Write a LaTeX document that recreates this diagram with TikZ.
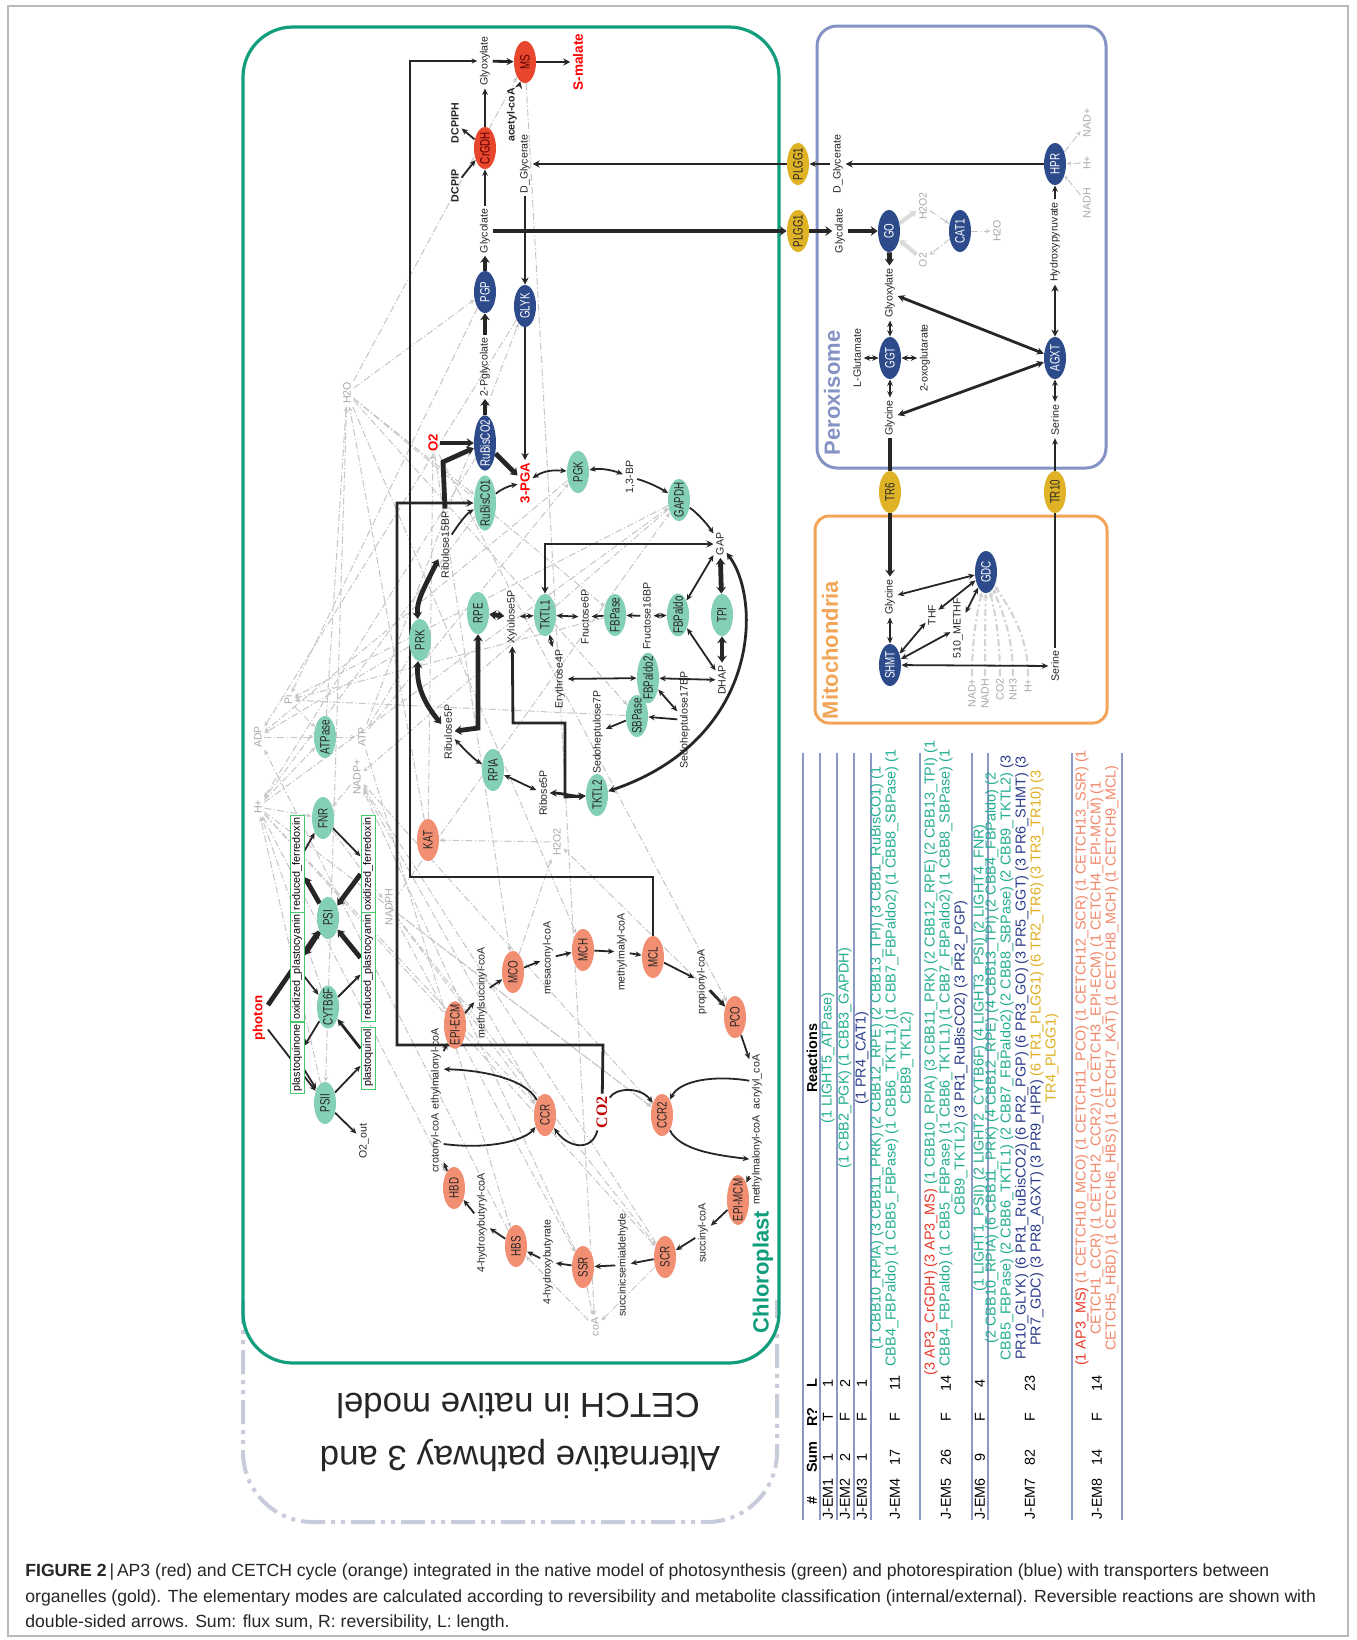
\documentclass[tikz,border=0pt]{standalone}
\usepackage{fontspec}
\setmainfont{Liberation Sans}
\newfontfamily\serfont{Liberation Serif}
\newfontfamily\enzfont[FakeStretch=0.72]{Liberation Sans}
\usetikzlibrary{shapes.geometric,arrows.meta}
\pgfdeclarelayer{bgA}
\pgfdeclarelayer{bgB}
\pgfsetlayers{bgA,bgB,main}
\definecolor{chl}{HTML}{129E7C}
\definecolor{perx}{HTML}{8592C4}
\definecolor{mito}{HTML}{F2A457}
\definecolor{egreen}{HTML}{84CFB8}
\definecolor{eblue}{HTML}{2D4A8A}
\definecolor{ered}{HTML}{E8472E}
\definecolor{eorange}{HTML}{F28E72}
\definecolor{egold}{HTML}{E0B326}
\definecolor{bxgreen}{HTML}{45C96E}
\definecolor{cofg}{HTML}{A8A8A8}
\definecolor{lk}{HTML}{262626}
\definecolor{tgreen}{HTML}{22AE90}
\definecolor{tred}{HTML}{E8392A}
\definecolor{tblue}{HTML}{2B3C8A}
\definecolor{tgold}{HTML}{E0AE1E}
\definecolor{torange}{HTML}{F2876A}
\definecolor{tline}{HTML}{8C98C6}
\definecolor{dashbox}{HTML}{C8CCDA}
\definecolor{co2red}{HTML}{C40000}
\newcommand{\fmet}{\fontsize{5.3}{6}\selectfont}
\newcommand{\fenz}{\enzfont\fontsize{6.8}{7}\selectfont}
\newcommand{\ftab}{\fontsize{7.2}{7.7}\selectfont}
\begin{document}
\begin{tikzpicture}[x=0.5pt,y=-0.5pt,
  met/.style={rotate=90, inner sep=1.2pt, font=\fmet, text=black!85},
  metb/.style={met, font=\fmet\bfseries},
  redl/.style={rotate=90, inner sep=1.2pt, text=red, font=\fontsize{6.6}{7}\selectfont\bfseries},
  cof/.style={rotate=90, inner sep=1.2pt, font=\fmet, text=cofg},
  enz/.style={ellipse, rotate=90, inner xsep=-1.8pt, inner ysep=0pt, minimum width=21pt, minimum height=11pt, font=\fenz},
  eg/.style={enz, fill=egreen, text=black!85},
  eb/.style={enz, fill=eblue, text=white},
  er/.style={enz, fill=ered, text=red!35!black},
  eo/.style={enz, fill=eorange, text=black!85},
  ey/.style={enz, fill=egold, text=black!85},
  lbox/.style={rotate=90, draw=bxgreen, line width=0.5pt, fill=white, inner xsep=1pt, inner ysep=0.6pt, minimum height=7pt, font=\fontsize{5.4}{5.4}\selectfont},
  blab/.style={rotate=90, inner sep=0pt, font=\fontsize{11}{12}\selectfont\bfseries},
  thead/.style={rotate=90, inner sep=0pt, font=\ftab\bfseries},
  trow/.style={rotate=90, inner sep=0pt, font=\ftab},
  arN/.style={draw=lk, line width=0.9pt, -{Stealth[length=3.2pt,width=2.8pt]}},
  arNb/.style={draw=lk, line width=0.9pt, {Stealth[length=3.2pt,width=2.8pt]}-{Stealth[length=3.2pt,width=2.8pt]}},
  arM/.style={draw=lk, line width=1.4pt, -{Stealth[length=3.5pt,width=3.6pt]}},
  arMb/.style={draw=lk, line width=1.4pt, {Stealth[length=3.5pt,width=3.6pt]}-{Stealth[length=3.5pt,width=3.6pt]}},
  arT/.style={draw=lk, line width=2.4pt, -{Stealth[length=3.4pt,width=4.8pt]}},
  arTb/.style={draw=lk, line width=2.4pt, {Stealth[length=3.4pt,width=4.8pt]}-{Stealth[length=3.4pt,width=4.8pt]}},
  arL/.style={draw=lk, line width=0.7pt, -{Stealth[length=2.8pt,width=2.5pt]}},
  lnT/.style={draw=lk, line width=2.4pt},
  lnL/.style={draw=lk, line width=0.8pt},
  cf/.style={draw=gray!45, line width=0.5pt, dash pattern=on 3.5pt off 1.2pt on 0.6pt off 1.2pt, -{Stealth[length=2.5pt,width=2.2pt]}},
  cft/.style={draw=gray!28, line width=2pt, -{Stealth[length=3pt,width=4.2pt]}},
  cfm/.style={draw=gray!35, line width=1pt, dash pattern=on 3.5pt off 1.5pt on 1pt off 1.5pt, -{Stealth[length=2.6pt,width=2.6pt]}}
]
\useasboundingbox (0,0) rectangle (1356,1640);

% ---------- compartments ----------
\begin{pgfonlayer}{bgA}
\fill[white] (0,0) rectangle (1356,1640);
\draw[gray!55, line width=0.6pt] (8,6) rectangle (1348,1636);
\draw[dashbox, line width=2pt, dash pattern=on 12pt off 3pt on 2pt off 3pt on 2pt off 3pt, rounded corners=35pt] (243,1300) -- (243,1522) -- (777,1522) -- (777,1300);
\draw[chl, line width=1.6pt, rounded corners=25pt] (243,27) rectangle (779,1363);
\draw[perx, line width=1.5pt, rounded corners=10pt] (817,26) rectangle (1106,468);
\draw[mito, line width=1.5pt, rounded corners=7pt] (815,516) rectangle (1107,723);
\end{pgfonlayer}

\node[blab, text=chl] (lchl) at (763,1272) {Chloroplast};
\node[blab, text=perx] (lper) at (832,393) {Peroxisome};
\node[blab, text=mito] (lmit) at (830,650) {Mitochondria};

% ---------- chloroplast: AP3 / photorespiration ----------
\node[met] (glyoxc) at (485,61) {Glyoxylate};
\node[er] (MS) at (525,62) {MS};
\node[redl, font=\fontsize{6.8}{7}\selectfont\bfseries] (smal) at (578,62) {S-malate};
\node[er] (CrGDH) at (485,148) {CrGDH};
\node[metb] (DCPIPH) at (455,123) {DCPIPH};
\node[metb] (DCPIP) at (455,186) {DCPIP};
\node[metb] (acoa) at (512,115) {acetyl-coA};
\node[met] (dglyc) at (525,164) {D\_Glycerate};
\node[met] (glyc) at (485,231) {Glycolate};
\node[eb] (PGP) at (485,292) {PGP};
\node[eb] (GLYK) at (525,306) {GLYK};
\node[met] (pgly) at (485,367) {2-Pglycolate};
\node[eb] (RuB2) at (485,443) {RuBisCO2};
\node[redl] (O2r) at (433,443) {O2};
\node[met] (rub15) at (445,545) {Ribulose15BP};
\node[eg] (RuB1) at (485,503) {RuBisCO1};
\node[redl] (pga) at (525,483) {3-PGA};
\node[eg] (PGK) at (578,472) {PGK};
\node[met] (bp13) at (630,477) {1,3-BP};
\node[eg] (GAPDH) at (679,500) {GAPDH};
\node[met] (GAP) at (720,544) {GAP};
\node[eg] (PRK) at (420,640) {PRK};
\node[eg] (RPE) at (478,613) {RPE};
\node[met] (xyl) at (512,617) {Xylulose5P};
\node[eg] (TKTL1) at (545,615) {TKTL1};
\node[met] (fru6) at (585,617) {Fructose6P};
\node[eg] (FBPase) at (615,615) {FBPase};
\node[met] (fru16) at (647,616) {Fructose16BP};
\node[eg] (FBPaldo) at (678,615) {FBPaldo};
\node[eg] (TPI) at (722,615) {TPI};
\node[met] (DHAP) at (722,680) {DHAP};
\node[met] (ery) at (560,679) {Erythrose4P};
\node[eg] (FBPaldo2) at (648,678) {FBPaldo2};
\node[met] (sed17) at (685,720) {Sedoheptulose17BP};
\node[eg] (SBPase) at (637,716) {SBPase};
\node[met] (sed7) at (598,732) {Sedoheptulose7P};
\node[eg] (TKTL2) at (597,795) {TKTL2};
\node[met] (rib5) at (543,793) {Ribose5P};
\node[eg] (RPIA) at (493,770) {RPIA};
\node[met] (ribu5) at (448,732) {Ribulose5P};
\node[eo] (KAT) at (428,840) {KAT};

% ---------- CETCH ----------
\node[eo] (MCO) at (513,972) {MCO};
\node[eo] (MCH) at (583,950) {MCH};
\node[eo] (MCL) at (653,957) {MCL};
\node[eo] (PCO) at (735,1017) {PCO};
\node[eo] (EPIECM) at (455,1025) {EPI-ECM};
\node[met] (msc) at (482,993) {methylsuccinyl-coA};
\node[met] (mes) at (548,958) {mesaconyl-coA};
\node[met] (mml) at (622,952) {methylmalyl-coA};
\node[met] (prop) at (702,982) {propionyl-coA};
\node[met] (acr) at (757,1082) {acrylyl\_coA};
\node[met] (mmal) at (757,1160) {methylmalonyl-coA};
\node[met] (emal) at (436,1069) {ethylmalonyl-coA};
\node[met] (crot) at (436,1143) {crotonyl-coA};
\node[eo] (CCR) at (545,1115) {CCR};
\node[eo] (CCR2) at (662,1115) {CCR2};
\node[rotate=90, inner sep=1pt, text=co2red, font=\serfont\fontsize{8}{8}\selectfont\bfseries] (CO2) at (602,1112) {CO2};
\node[eo] (EPIMCM) at (738,1200) {EPI-MCM};
\node[met] (succ) at (703,1233) {succinyl-coA};
\node[eo] (SCR) at (665,1257) {SCR};
\node[met] (ssa) at (623,1265) {succinicsemialdehyde};
\node[eo] (SSR) at (583,1267) {SSR};
\node[met] (hb) at (548,1262) {4-hydroxybutyrate};
\node[eo] (HBS) at (516,1246) {HBS};
\node[met] (hbc) at (482,1223) {4-hydroxybutyryl-coA};
\node[eo] (HBD) at (454,1188) {HBD};
\node[cof] (coA) at (595,1327) {coA};

% ---------- light reactions ----------
\node[cof] (H2O) at (347,393) {H2O};
\node[cof] (Pi) at (288,700) {Pi};
\node[cof] (ADP) at (258,737) {ADP};
\node[cof] (ATP) at (362,737) {ATP};
\node[eg] (ATPase) at (325,737) {ATPase};
\node[cof] (Hp) at (258,807) {H+};
\node[cof] (NADPp) at (357,777) {NADP+};
\node[cof] (NADPH) at (389,907) {NADPH};
\node[cof] (H2O2) at (557,842) {H2O2};
\node[eg] (FNR) at (323,818) {FNR};
\node[lbox, minimum width=47pt] (redfd) at (297,864) {reduced\_ferredoxin};
\node[lbox, minimum width=47pt] (oxfd) at (368,864) {oxidized\_ferredoxin};
\node[eg] (PSI) at (328,918) {PSI};
\node[lbox, minimum width=52pt] (oxpc) at (297,967) {oxidized\_plastocyanin};
\node[lbox, minimum width=52pt] (redpc) at (368,967) {reduced\_plastocyanin};
\node[eg] (CYT) at (328,1007) {CYTB6F};
\node[lbox, minimum width=32pt] (pq) at (297,1058) {plastoquinone};
\node[lbox, minimum width=31pt] (pqol) at (368,1058) {plastoquinol};
\node[eg] (PSII) at (325,1103) {PSII};
\node[redl] (photon) at (259,1018) {photon};
\node[met] (O2out) at (364,1141) {O2\_out};

% ---------- peroxisome ----------
\node[ey] (PLa) at (798,164) {PLGG1};
\node[ey] (PLb) at (798,231) {PLGG1};
\node[met] (dglycp) at (838,164) {D\_Glycerate};
\node[met] (glycp) at (840,231) {Glycolate};
\node[eb] (GO) at (889,231) {GO};
\node[met] (glyoxp) at (890,293) {Glyoxylate};
\node[eb] (GGT) at (890,358) {GGT};
\node[met] (lglu) at (857,358) {L-Glutamate};
\node[met] (oxog) at (925,358) {2-oxoglutarate};
\node[met] (glyp) at (890,418) {Glycine};
\node[eb] (AGXT) at (1055,358) {AGXT};
\node[met] (hpyr) at (1055,242) {Hydroxypyruvate};
\node[eb] (HPR) at (1055,164) {HPR};
\node[cof] (NADpP) at (1087,123) {NAD+};
\node[cof] (HpP) at (1087,163) {H+};
\node[cof] (NADHP) at (1087,203) {NADH};
\node[cof] (H2O2P) at (923,206) {H2O2};
\node[cof] (O2P) at (923,260) {O2};
\node[eb] (CAT1) at (960,231) {CAT1};
\node[cof] (H2OP) at (997,231) {H2O};
\node[met] (serp) at (1055,420) {Serine};
\node[ey] (TR6) at (890,492) {TR6};
\node[ey] (TR10) at (1055,492) {TR10};

% ---------- mitochondria ----------
\node[met] (glym) at (890,597) {Glycine};
\node[eb] (GDC) at (986,572) {GDC};
\node[met] (THF) at (932,615) {THF};
\node[met] (methf) at (958,628) {510\_METHF};
\node[eb] (SHMT) at (890,665) {SHMT};
\node[met] (serm) at (1055,666) {Serine};
\node[cof, anchor=east] (mc1) at (972,676) {NAD+};
\node[cof, anchor=east] (mc2) at (985,676) {NADH};
\node[cof, anchor=east] (mc3) at (1000,676) {CO2};
\node[cof, anchor=east] (mc4) at (1013,676) {NH3};
\node[cof, anchor=east] (mc5) at (1028,676) {H+};

% ---------- cofactor (grey) links ----------
\begin{pgfonlayer}{bgA}
\foreach \a/\b in {H2O/PSII, ATPase/H2O, H2O/RuB1, H2O/FBPase, H2O/SBPase, H2O/PGP, H2O/MS, H2O/MCH, KAT/H2O,
  Pi/ATPase, PGP/Pi, FBPase/Pi, SBPase/Pi, GAPDH/Pi,
  ADP/ATPase, PRK/ADP, PGK/ADP, GLYK/ADP, HBS/ADP,
  ATPase/ATP, ATP/PRK, ATP/PGK, ATP/GLYK, ATP/HBS,
  Hp/ATPase, PSII/Hp, CYT/Hp, Hp/FNR, RuB1/Hp, RuB2/Hp, Hp/CCR, Hp/CCR2, Hp/SCR, Hp/HBD, Hp/GAPDH,
  NADPp/FNR, GAPDH/NADPp, CCR/NADPp, CCR2/NADPp, SCR/NADPp, SSR/NADPp,
  FNR/NADPH, NADPH/GAPDH, NADPH/CCR, NADPH/CCR2, NADPH/SCR, NADPH/SSR,
  MCO/H2O2, PCO/H2O2, H2O2/KAT, KAT/O2r, O2r/MCO, O2r/PCO,
  SCR/coA, coA/HBS, SSR/coA, MS/coA,
  NADHP/HPR, HPR/NADpP, HpP/HPR, H2O2P/CAT1, CAT1/O2P, CAT1/H2OP}
  {\draw[cf] (\a) -- (\b);}
\draw[cft] (GO) -- (H2O2P);
\draw[cft] (O2P) -- (GO);
\foreach \n/\xx in {mc1/972, mc2/985, mc3/1000, mc4/1013, mc5/1028}
  {\draw[cfm] (\n.east) .. controls (\xx,632) and ({(\xx+986)/2},605) .. (GDC);}
\end{pgfonlayer}

% ---------- main reactions ----------
\begin{pgfonlayer}{bgB}
\draw[arM] (glyoxc) -- (MS);
\draw[arM] (MS) -- (smal);
\draw[arM] (acoa) -- (MS);
\draw[arN] (glyc) -- (CrGDH);
\draw[arN] (CrGDH) -- (glyoxc);
\draw[arN] (DCPIP) -- (CrGDH);
\draw[arN] (CrGDH) -- (DCPIPH);
\draw[arM] (PLa) -- (dglyc);
\draw[arM] (dglyc) -- (GLYK);
\draw[arT] (glyc) -- (PLb);
\draw[arT] (PGP) -- (glyc);
\draw[arT] (pgly) -- (PGP);
\draw[arT] (RuB2) -- (pgly);
\draw[arT] (O2r) -- (RuB2);
\draw[arT] (rub15.east) -- (443,462) -- (RuB2);
\draw[arN] (rub15) .. controls (458,525) and (466,514) .. (RuB1);
\draw[arN] (RuB1) .. controls (500,490) and (508,486) .. (pga);
\draw[arT] (RuB2) -- (pga);
\draw[arM] (GLYK) -- (pga);
\draw[arNb] (pga) .. controls (545,470) and (555,470) .. (PGK);
\draw[arNb] (PGK) .. controls (600,468) and (612,470) .. (bp13);
\draw[arN] (bp13) .. controls (648,482) and (660,488) .. (GAPDH);
\draw[arN] (GAPDH) .. controls (700,515) and (710,528) .. (GAP);
\draw[arMb] (TKTL1) -- (545,544) -- (GAP);
\draw[arNb] (FBPaldo) -- (GAP);
\draw[arTb] (TPI) -- (GAP);
\draw[arTb] (TPI) -- (DHAP);
\draw[arNb] (FBPaldo) -- (DHAP);
\draw[arNb] (fru16) -- (FBPaldo);
\draw[arN] (fru16) -- (FBPase);
\draw[arN] (FBPase) -- (fru6);
\draw[arNb] (fru6) -- (TKTL1);
\draw[arNb] (TKTL1) -- (xyl);
\draw[arTb] (xyl) -- (RPE);
\draw[arTb] (RPE) -- (478,728) -- (ribu5);
\draw[arTb] (PRK) .. controls (416,600) and (426,585) .. (rub15);
\draw[arTb] (PRK) .. controls (416,685) and (424,703) .. (ribu5);
\draw[arNb] (ribu5) .. controls (465,750) and (475,760) .. (RPIA);
\draw[arNb] (RPIA) .. controls (515,780) and (525,785) .. (rib5);
\draw[arMb] (rib5) .. controls (562,793) and (575,797) .. (TKTL2);
\draw[arMb] (xyl) -- (513,723) -- (565,723) -- (565,797) -- (TKTL2);
\draw[arNb] (sed7) -- (TKTL2);
\draw[arN] (SBPase) -- (sed7);
\draw[arN] (sed17) -- (SBPase);
\draw[arNb] (FBPaldo2) -- (sed17);
\draw[arNb] (ery) -- (FBPaldo2);
\draw[arNb] (FBPaldo2) -- (DHAP);
\draw[arNb] (TKTL1) -- (ery);
\draw[arMb] (GAP) .. controls (762,600) and (760,740) .. (TKTL2);
% CETCH
\draw[arL] (MCL) -- (653,877) -- (410,877) -- (410,61) -- (glyoxc);
\draw[arM] (CO2) -- (603,1045) -- (397,1045) -- (397,503) -- (RuB1);
\draw[arN] (EPIECM) -- (msc);
\draw[arN] (msc) -- (MCO);
\draw[arN] (MCO) -- (mes);
\draw[arN] (mes) -- (MCH);
\draw[arN] (MCH) -- (mml);
\draw[arN] (mml) -- (MCL);
\draw[arN] (MCL) -- (prop);
\draw[arM] (prop) -- (PCO);
\draw[arN] (PCO) -- (acr);
\draw[arN] (emal) -- (EPIECM);
\draw[arN] (CCR) .. controls (525,1078) and (480,1070) .. (emal);
\draw[arN] (crot) .. controls (490,1150) and (525,1140) .. (CCR);
\draw[arN] (CO2) .. controls (592,1152) and (568,1148) .. (CCR);
\draw[arN] (CO2) .. controls (615,1088) and (640,1086) .. (CCR2);
\draw[arN] (acr) .. controls (715,1075) and (680,1080) .. (CCR2);
\draw[arN] (CCR2) .. controls (680,1150) and (715,1155) .. (mmal);
\draw[arN] (mmal) -- (EPIMCM);
\draw[arN] (EPIMCM) -- (succ);
\draw[arN] (succ) -- (SCR);
\draw[arN] (SCR) -- (ssa);
\draw[arN] (ssa) -- (SSR);
\draw[arN] (SSR) -- (hb);
\draw[arN] (hb) -- (HBS);
\draw[arN] (HBS) -- (hbc);
\draw[arN] (hbc) -- (HBD);
\draw[arN] (HBD) -- (crot);
% light
\draw[arT] (photon) -- (PSI);
\draw[arT] (PSI) -- (oxpc);
\draw[arN] (photon) -- (PSII);
\draw[arN] (pq) -- (PSII);
\draw[arN] (PSII) -- (pqol);
\draw[arM] (pqol) -- (CYT);
\draw[arN] (CYT) -- (pq);
\draw[arN] (oxpc) -- (CYT);
\draw[arN] (CYT) -- (redpc);
\draw[arT] (redpc) -- (PSI);
\draw[arT] (oxfd) -- (PSI);
\draw[arT] (PSI) -- (redfd);
\draw[arN] (redfd) -- (FNR);
\draw[arN] (FNR) -- (oxfd);
\draw[arN] (PSII) -- (O2out);
% peroxisome & mitochondria
\draw[arM] (HPR) -- (dglycp);
\draw[arN] (dglycp) -- (PLa);
\draw[arT] (PLb) -- (glycp);
\draw[arT] (glycp) -- (GO);
\draw[arT] (GO) -- (glyoxp);
\draw[arNb] (glyoxp) -- (GGT);
\draw[arNb] (lglu) -- (GGT);
\draw[arNb] (GGT) -- (oxog);
\draw[arNb] (GGT) -- (glyp);
\draw[arMb] (glyp) -- (AGXT);
\draw[arMb] (glyoxp) -- (AGXT);
\draw[arMb] (AGXT) -- (hpyr);
\draw[arN] (hpyr) -- (HPR);
\draw[arNb] (AGXT) -- (serp);
\draw[arN] (TR10) -- (serp);
\draw[lnT] (glyp) -- (TR6);
\draw[arT] (TR6) -- (glym);
\draw[lnL] (serm) -- (TR10);
\draw[arNb] (glym) -- (GDC);
\draw[arNb] (GDC) -- (THF);
\draw[arNb] (GDC) -- (methf);
\draw[arNb] (glym) -- (SHMT);
\draw[arNb] (SHMT) -- (THF);
\draw[arNb] (SHMT) -- (methf);
\draw[arNb] (SHMT) -- (serm);
\end{pgfonlayer}

% ---------- table ----------
\foreach \xx in {820,837,854,871,920,972,988,1072}
  {\draw[tline, line width=0.6pt] (\xx,753) -- (\xx,1520);}
\draw[tline, line width=1.2pt] (803,753) -- (803,1520);
\draw[tline, line width=1.2pt] (1122,753) -- (1122,1520);
\node[thead] (hh) at (812,1500) {\#};
\node[thead] (hs) at (812,1457) {Sum};
\node[thead] (hr) at (812,1417) {R?};
\node[thead] (hl) at (812,1383) {L};
\node[thead] (hx) at (812,1058) {Reactions};
\foreach \xx/\lab/\s/\r/\l in {828/J-EM1/1/T/1, 845/J-EM2/2/F/2, 862/J-EM3/1/F/1, 895/J-EM4/17/F/11, 946/J-EM5/26/F/14, 980/J-EM6/9/F/4, 1030/J-EM7/82/F/23, 1097/J-EM8/14/F/14}
  {\node[trow] at (\xx,1499) {\lab};
   \node[trow] at (\xx,1457) {\s};
   \node[trow] at (\xx,1417) {\r};
   \node[trow] at (\xx,1383) {\l};}
\node[trow, text=tgreen] (r1) at (828,1058) {(1 LIGHT5\_ATPase)};
\node[trow, text=tgreen] (r2) at (845,1058) {(1 CBB2\_PGK) (1 CBB3\_GAPDH)};
\node[trow, text=tblue] (r3) at (862,1058) {(1 PR4\_CAT1)};
\node[trow, text=tgreen] (r4a) at (877,1058) {(1 CBB10\_RPIA) (3 CBB11\_PRK) (2 CBB12\_RPE) (2 CBB13\_TPI) (3 CBB1\_RuBisCO1) (1};
\node[trow, text=tgreen] (r4b) at (892,1058) {CBB4\_FBPaldo) (1 CBB5\_FBPase) (1 CBB6\_TKTL1) (1 CBB7\_FBPaldo2) (1 CBB8\_SBPase) (1};
\node[trow, text=tgreen] (r4c) at (907,1058) {CBB9\_TKTL2)};
\node[trow] (r5a) at (931,1058) {\textcolor{tred}{(3 AP3\_CrGDH) (3 AP3\_MS)} \textcolor{tgreen}{(1 CBB10\_RPIA) (3 CBB11\_PRK) (2 CBB12\_RPE) (2 CBB13\_TPI) (1}};
\node[trow, text=tgreen] (r5b) at (946,1058) {CBB4\_FBPaldo) (1 CBB5\_FBPase) (1 CBB6\_TKTL1) (1 CBB7\_FBPaldo2) (1 CBB8\_SBPase) (1};
\node[trow] (r5c) at (961,1058) {\textcolor{tgreen}{CBB9\_TKTL2)} \textcolor{tblue}{(3 PR1\_RuBisCO2) (3 PR2\_PGP)}};
\node[trow, text=tgreen] (r6) at (980,1058) {(1 LIGHT1\_PSII) (2 LIGHT2\_CYTB6F) (4 LIGHT3\_PSI) (2 LIGHT4\_FNR)};
\node[trow, text=tgreen] (r7a) at (992,1058) {(2 CBB10\_RPIA) (6 CBB11\_PRK) (4 CBB12\_RPE) (4 CBB13\_TPI) (2 CBB4\_FBPaldo) (2};
\node[trow] (r7b) at (1007,1058) {\textcolor{tgreen}{CBB5\_FBPase) (2 CBB6\_TKTL1) (2 CBB7\_FBPaldo2) (2 CBB8\_SBPase) (2 CBB9\_TKTL2)} \textcolor{tblue}{(3}};
\node[trow, text=tblue] (r7c) at (1022,1058) {PR10\_GLYK) (6 PR1\_RuBisCO2) (6 PR2\_PGP) (6 PR3\_GO) (3 PR5\_GGT) (3 PR6\_SHMT) (3};
\node[trow] (r7d) at (1037,1058) {\textcolor{tblue}{PR7\_GDC) (3 PR8\_AGXT) (3 PR9\_HPR)} \textcolor{tgold}{(6 TR1\_PLGG1) (6 TR2\_TR6) (3 TR3\_TR10) (3}};
\node[trow, text=tgold] (r7e) at (1052,1058) {TR4\_PLGG1)};
\node[trow] (r8a) at (1082,1058) {\textcolor{tred}{(1 AP3\_MS)} \textcolor{torange}{(1 CETCH10\_MCO) (1 CETCH11\_PCO) (1 CETCH12\_SCR) (1 CETCH13\_SSR) (1}};
\node[trow, text=torange] (r8b) at (1097,1058) {CETCH1\_CCR) (1 CETCH2\_CCR2) (1 CETCH3\_EPI-ECM) (1 CETCH4\_EPI-MCM) (1};
\node[trow, text=torange] (r8c) at (1112,1058) {CETCH5\_HBD) (1 CETCH6\_HBS) (1 CETCH7\_KAT) (1 CETCH8\_MCH) (1 CETCH9\_MCL)};

% ---------- title (upside down) ----------
\node[rotate=180, inner sep=0pt, font=\fontsize{17.4}{20}\selectfont, text=black!85] (t1) at (520,1455) {Alternative pathway 3 and};
\node[rotate=180, inner sep=0pt, font=\fontsize{17.4}{20}\selectfont, text=black!85] (t2) at (518,1406) {CETCH in native model};

% ---------- caption ----------
\node[anchor=west, inner sep=0pt, font=\fontsize{8.8}{10}\selectfont, text=black!85] (cap1) at (25,1572) {\textbf{FIGURE 2}\,|\,AP3 (red) and CETCH cycle (orange) integrated in the native model of photosynthesis (green) and photorespiration (blue) with transporters between};
\node[anchor=west, inner sep=0pt, font=\fontsize{8.8}{10}\selectfont, text=black!85] (cap2) at (25,1598) {organelles (gold). The elementary modes are calculated according to reversibility and metabolite classification (internal/external). Reversible reactions are shown with};
\node[anchor=west, inner sep=0pt, font=\fontsize{8.8}{10}\selectfont, text=black!85] (cap3) at (25,1623) {double-sided arrows. Sum: flux sum, R: reversibility, L: length.};
\end{tikzpicture}
\end{document}
